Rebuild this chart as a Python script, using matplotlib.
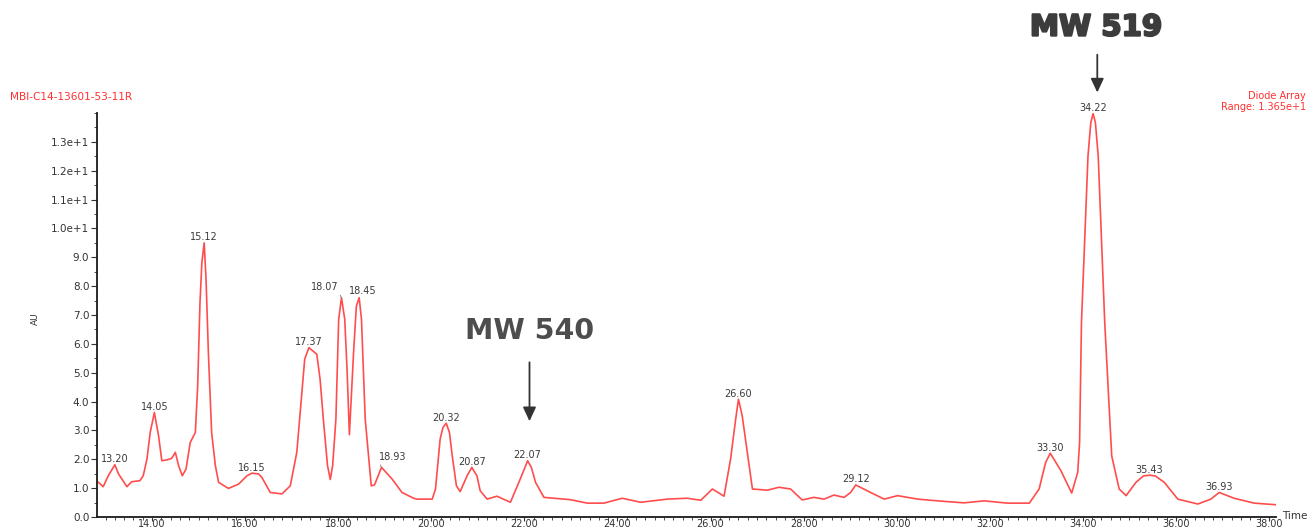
import matplotlib
matplotlib.use("Agg")
import matplotlib.pyplot as plt
from matplotlib.ticker import MultipleLocator, FixedLocator, FuncFormatter
import matplotlib.patheffects as pe

# ---- data ----
time_min = [12.82, 12.85, 12.95, 13.06, 13.20, 13.28, 13.46, 13.56, 13.74, 13.81,
            13.89, 13.96, 14.05, 14.14, 14.21, 14.32, 14.42, 14.50, 14.57, 14.65,
            14.73, 14.82, 14.93, 14.98, 15.03, 15.07, 15.12, 15.16, 15.21, 15.28,
            15.36, 15.43, 15.64, 15.86, 16.04, 16.15, 16.29, 16.36, 16.54, 16.79,
            16.97, 17.11, 17.22, 17.28, 17.37, 17.43, 17.54, 17.61, 17.68, 17.77,
            17.83, 17.88, 17.95, 18.01, 18.07, 18.14, 18.19, 18.24, 18.33, 18.39,
            18.45, 18.50, 18.58, 18.71, 18.78, 18.93, 19.16, 19.37, 19.62, 19.69,
            20.02, 20.09, 20.19, 20.25, 20.32, 20.39, 20.45, 20.54, 20.62, 20.77,
            20.87, 20.98, 21.05, 21.20, 21.41, 21.70, 21.91, 22.07, 22.15, 22.24,
            22.42, 22.99, 23.35, 23.71, 24.10, 24.50, 25.07, 25.50, 25.79, 26.04,
            26.29, 26.43, 26.54, 26.60, 26.68, 26.75, 26.90, 27.22, 27.47, 27.72,
            27.97, 28.22, 28.44, 28.65, 28.87, 29.01, 29.12, 29.44, 29.73, 30.02,
            30.45, 30.95, 31.45, 31.88, 32.38, 32.85, 33.06, 33.20, 33.30, 33.53,
            33.76, 33.89, 33.93, 33.97, 34.11, 34.17, 34.22, 34.27, 34.33, 34.47,
            34.62, 34.78, 34.93, 35.14, 35.30, 35.43, 35.56, 35.75, 36.04, 36.47,
            36.75, 36.93, 37.25, 37.68, 38.19]
absorbance = [1.22, 1.20, 1.05, 1.43, 1.81, 1.49, 1.05, 1.22, 1.26, 1.43,
              2.00, 2.93, 3.62, 2.81, 1.95, 1.98, 2.03, 2.24, 1.78, 1.43,
              1.66, 2.58, 2.93, 4.54, 7.43, 8.81, 9.50, 8.24, 5.70, 2.93,
              1.78, 1.20, 0.99, 1.14, 1.43, 1.52, 1.49, 1.37, 0.85, 0.80,
              1.08, 2.24, 4.31, 5.47, 5.87, 5.79, 5.64, 4.78, 3.39, 1.78,
              1.30, 1.78, 3.39, 6.85, 7.60, 6.85, 5.12, 2.85, 5.70, 7.31,
              7.60, 6.85, 3.39, 1.08, 1.11, 1.72, 1.31, 0.85, 0.65, 0.62,
              0.62, 0.97, 2.70, 3.10, 3.25, 2.93, 2.12, 1.08, 0.88, 1.43,
              1.72, 1.43, 0.91, 0.62, 0.72, 0.51, 1.31, 1.95, 1.72, 1.20,
              0.68, 0.60, 0.48, 0.48, 0.65, 0.51, 0.62, 0.65, 0.58, 0.97,
              0.72, 2.00, 3.39, 4.08, 3.51, 2.70, 0.97, 0.93, 1.03, 0.97,
              0.59, 0.68, 0.62, 0.76, 0.68, 0.85, 1.11, 0.85, 0.62, 0.74,
              0.62, 0.55, 0.49, 0.56, 0.48, 0.48, 0.97, 1.89, 2.21, 1.60,
              0.83, 1.55, 2.60, 6.74, 12.50, 13.66, 13.98, 13.66, 12.50, 6.74,
              2.12, 0.97, 0.74, 1.20, 1.42, 1.45, 1.42, 1.20, 0.62, 0.45,
              0.62, 0.85, 0.65, 0.48, 0.42]

peak_times = [13.20, 14.05, 15.12, 16.15, 17.37, 18.07, 18.45, 18.93, 20.32,
              20.87, 22.07, 26.60, 29.12, 33.30, 34.22, 35.43, 36.93]
peak_heights = [1.81, 3.62, 9.50, 1.52, 5.87, 7.60, 7.60, 1.72, 3.25,
                1.72, 1.95, 4.08, 1.11, 2.21, 13.98, 1.45, 0.85]

x_major_ticks = [14, 16, 18, 20, 22, 24, 26, 28, 30, 32, 34, 36, 38]
y_major_ticks = [0, 1, 2, 3, 4, 5, 6, 7, 8, 9, 10, 11, 12, 13]

callouts = ["MW 540", "MW 519"]
callout_times = [22.07, 34.22]

# ---- figure ----
W, H = 1309, 529
fig = plt.figure(figsize=(W / 100, H / 100), dpi=100)
plt.rcParams['font.family'] = ['DejaVu Sans']
ax = fig.add_axes([97 / W, 1 - 517 / H, (1276 - 97) / W, (517 - 113) / H])

line_red = '#ff4d4d'
ax.plot(time_min, absorbance, color=line_red, lw=1.2, solid_joinstyle='round')

ax.set_xlim(12.817, 38.15)
ax.set_ylim(0, 14.0)

for s in ['top', 'right']:
    ax.spines[s].set_visible(False)
for s in ['left', 'bottom']:
    ax.spines[s].set_color('#1a1a1a')
    ax.spines[s].set_linewidth(1.3)

ax.xaxis.set_major_locator(FixedLocator(x_major_ticks))
ax.xaxis.set_minor_locator(MultipleLocator(0.2))
ax.xaxis.set_major_formatter(FuncFormatter(lambda v, p: f"{v:.2f}"))
ax.yaxis.set_major_locator(FixedLocator(y_major_ticks))
ax.yaxis.set_minor_locator(MultipleLocator(0.5))


def yfmt(v, p):
    if v >= 10:
        return f"{v / 10:.1f}e+1"
    return f"{v:.1f}"


ax.yaxis.set_major_formatter(FuncFormatter(yfmt))
ax.tick_params(axis='y', which='major', direction='out', length=4, width=0.8,
               colors='#333333', labelsize=7.5, pad=1.5)
ax.tick_params(axis='x', which='major', direction='out', length=3, width=0.8,
               colors='#333333', labelsize=7, pad=-1.5)
ax.tick_params(axis='both', which='minor', direction='out', length=2.5, width=0.6,
               colors='#333333')

ax.set_ylabel('AU', fontsize=6.5, color='#333333')
ax.yaxis.set_label_coords(-0.048, 0.49)

# peak labels
offsets = {18.07: (-12, 7.4), 18.45: (2.7, 4.5), 18.93: (8.1, 7.4)}
for t, h in zip(peak_times, peak_heights):
    dx, dy = offsets.get(t, (0, 4))
    kw = {}
    if t == 18.07:
        kw['arrowprops'] = dict(arrowstyle='-', color='#777777', lw=0.6,
                                shrinkA=0, shrinkB=0, relpos=(1.0, 0.0))
    if t == 18.93:
        kw['arrowprops'] = dict(arrowstyle='-', color='#777777', lw=0.6,
                                shrinkA=0, shrinkB=0, relpos=(0.0, 0.0))
    ax.annotate(f"{t:.2f}", xy=(t, h), xytext=(dx, dy), textcoords='offset points',
                ha='center', va='center', fontsize=7, color='#3a3a3a',
                annotation_clip=False, **kw)

# MW call-outs
ax.text(22.11, 6.44, callouts[0], ha='center', va='center', fontsize=20.5,
        fontweight='bold', color='#4d4d4d', clip_on=False)
ax.annotate('', xy=(22.11, 3.32), xytext=(22.11, 5.36),
            arrowprops=dict(arrowstyle='-|>,head_length=0.6,head_width=0.28',
                            mutation_scale=14, color='#333333', lw=1.3,
                            shrinkA=0, shrinkB=0), annotation_clip=False)
t_mw519 = ax.text(34.28, 16.96, callouts[1], ha='center', va='center', fontsize=21,
                  fontweight='bold', color='#3c3c3c', clip_on=False)
t_mw519.set_path_effects([pe.withStroke(linewidth=1.6, foreground='#3c3c3c')])
ax.annotate('', xy=(34.31, 14.71), xytext=(34.31, 16.02),
            arrowprops=dict(arrowstyle='-|>,head_length=0.6,head_width=0.28',
                            mutation_scale=14, color='#333333', lw=1.3,
                            shrinkA=0, shrinkB=0), annotation_clip=False)

# header texts
fig.text(10 / W, 1 - 97 / H, 'MBI-C14-13601-53-11R', fontsize=7.6, color='#ff3030',
         ha='left', va='center')
fig.text(1306 / W, 1 - 96 / H, 'Diode Array', fontsize=7, color='#ff3030',
         ha='right', va='center')
fig.text(1306 / W, 1 - 106.5 / H, 'Range: 1.365e+1', fontsize=7, color='#ff3030',
         ha='right', va='center')
fig.text(1282 / W, 1 - 516 / H, 'Time', fontsize=7.5, color='#333333',
         ha='left', va='center')

fig.savefig('out.png', dpi=100)
